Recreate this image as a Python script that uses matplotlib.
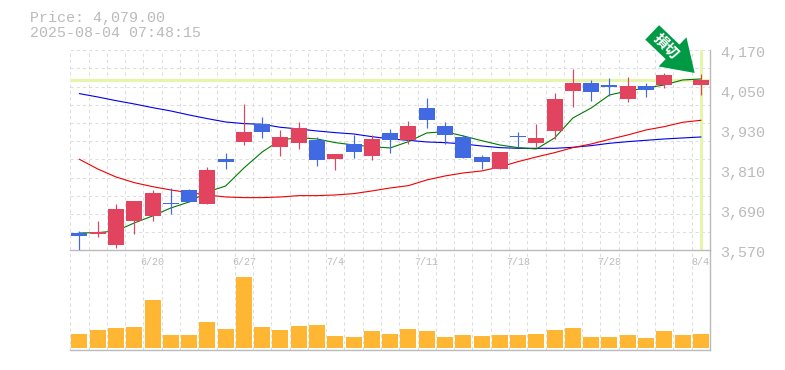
"""Daily candles with moving averages and volume, price panel over volume panel."""

import numpy as np
import matplotlib
matplotlib.use("Agg")
import matplotlib.pyplot as plt

W, H = 785, 370

# red = close above open, blue = close below open
opens = [3622, 3619, 3586, 3658, 3673, 3712, 3751, 3709, 3844, 3895, 3949, 3880,
         3892, 3901, 3844, 3889, 3853, 3922, 3901, 3997, 3943, 3910, 3850, 3814,
         3913, 3892, 3928, 4048, 4072, 4066, 4024, 4063, 4066, np.nan, 4066]
closes = [3613, 3625, 3694, 3718, 3742, 3709, 3715, 3811, 3835, 3925, 3925, 3910,
          3937, 3841, 3859, 3865, 3904, 3901, 3943, 3961, 3916, 3847, 3835, 3865,
          3910, 3907, 4024, 4072, 4045, 4060, 4063, 4051, 4096, np.nan, 4081]
highs = [3628, 3658, 3709, 3718, 3751, 3757, 3754, 3820, 3862, 4009, 3970, 3931,
         3955, 3910, 3859, 3916, 3916, 3934, 3958, 4027, 3955, 3916, 3856, 3865,
         3925, 3949, 4042, 4114, 4081, 4087, 4090, 4072, 4102, np.nan, 4099]
lows = [3570, 3610, 3577, 3619, 3658, 3679, 3715, 3709, 3814, 3886, 3907, 3853,
        3874, 3823, 3811, 3847, 3841, 3862, 3889, 3937, 3889, 3847, 3814, 3814,
        3880, 3880, 3904, 4000, 4018, 4033, 4015, 4030, 4057, np.nan, 4036]

ma_short = [3622, 3623, 3628, 3652, 3673, 3697, 3715, 3745, 3763, 3817, 3865, 3901,
            3908, 3904, 3893, 3886, 3881, 3877, 3896, 3922, 3926, 3913, 3899, 3886,
            3878, 3874, 3907, 3967, 3997, 4036, 4048, 4057, 4066, 4081, 4084]
ma_mid = [3843, 3814, 3790, 3773, 3761, 3751, 3743, 3736, 3730, 3728, 3728, 3730,
          3734, 3734, 3736, 3740, 3748, 3757, 3764, 3781, 3793, 3802, 3808, 3820,
          3836, 3850, 3863, 3878, 3889, 3903, 3916, 3931, 3941, 3954, 3960]
ma_long = [4040, 4030, 4019, 4009, 3998, 3988, 3976, 3965, 3955, 3950, 3948, 3939,
           3934, 3928, 3923, 3919, 3911, 3904, 3900, 3895, 3893, 3889, 3883, 3878,
           3876, 3876, 3876, 3879, 3884, 3891, 3896, 3900, 3904, 3907, 3910]

volumes = [14, 18, 20, 21, 48, 13, 13, 26, 19, 71, 21, 18, 22, 23, 12, 11, 17, 14,
           19, 17, 11, 13, 12, 13, 13, 14, 18, 20, 11, 11, 13, 10, 17, 13, 14]

date_idx = [4, 9, 14, 19, 24, 29, 34]
date_labels = ["6/20", "6/27", "7/4", "7/11", "7/18", "7/28", "8/4"]
price_ticks = [3570, 3690, 3810, 3930, 4050, 4170]
price_labels = ["3,570", "3,690", "3,810", "3,930", "4,050", "4,170"]

last_price = 4080
n = len(volumes)

RED = "#e2445f"
BLUE = "#4169e1"
GREY = "#bbbbbb"
GRID = "#dddddd"
LIME = "#e6f5ae"
GREEN = "#009944"
MONO = "Liberation Mono"


def px_axes(fig, left, top, right, bottom):
    return fig.add_axes([left / W, 1 - bottom / H, (right - left) / W, (bottom - top) / H])


fig = plt.figure(figsize=(W / 100, H / 100), dpi=100)
ax = px_axes(fig, 70.3, 50.3, 710, 250.3)
ax_vol = px_axes(fig, 70.3, 250.3, 710, 350.3)

x = np.arange(n)
grid_x = np.arange(n + 1) - 0.5

for a in (ax, ax_vol):
    a.set_xlim(-0.5, n - 0.5)
    a.set_facecolor("none")
    a.spines["top"].set_visible(False)
    a.spines["left"].set_visible(False)
    for s in ("right", "bottom"):
        a.spines[s].set_color(GREY)
        a.spines[s].set_linewidth(1.0)
    a.vlines(grid_x[:-1], 0, 1, transform=a.get_xaxis_transform(), color=GRID,
             lw=0.75, linestyles=(0, (3, 3)), zorder=0)
    a.tick_params(length=0)

# price panel
ax.set_ylim(3570, 4170)
for v in np.linspace(3570, 4170, 12)[1:]:
    ax.axhline(v, color=GRID, lw=0.75, ls=(0, (3, 3)), zorder=0)
ax.axhline(last_price, color=LIME, lw=2.3, zorder=1)
ax.axvline(x[-1], color=LIME, lw=2.3, zorder=1)

ax.plot(x, ma_long, color="#0000ee", lw=0.8, zorder=2)
ax.plot(x, ma_mid, color="#f00000", lw=0.8, zorder=2)
ax.plot(x, ma_short, color="#007a00", lw=0.8, zorder=2)

for i in range(n):
    if np.isnan(opens[i]):
        continue
    col = RED if closes[i] >= opens[i] else BLUE
    ax.vlines(x[i], lows[i], highs[i], color=col, lw=0.85, zorder=3)
    ax.bar(x[i], abs(closes[i] - opens[i]), bottom=min(opens[i], closes[i]),
           width=0.875, color=col, zorder=3)

ax.set_yticks([])
for v, lab in zip(price_ticks, price_labels):
    ax.annotate(lab, xy=(1, v), xycoords=ax.get_yaxis_transform(), xytext=(7.2, -2.2),
                textcoords="offset points", family=MONO, fontsize=10.8, color=GREY,
                ha="left", va="center", annotation_clip=False)
ax.set_xticks(date_idx, date_labels, fontfamily=MONO, fontsize=7.2, color=GREY)
ax.tick_params(axis="x", pad=5)

# signal arrow pointing at the last bars
ax.annotate("", xy=(33.66, 4102), xytext=(-30.6, 29.2), textcoords="offset points",
            arrowprops=dict(facecolor=GREEN, edgecolor=GREEN, lw=0, width=14.4,
                            headwidth=29, headlength=22, shrink=0),
            zorder=5, annotation_clip=False)
fig.text(666 / W, 1 - 46 / H, "損切", rotation=-45, color="white", fontsize=10.5,
         fontweight="bold", family=["Noto Sans CJK JP", "DejaVu Sans"],
         ha="center", va="center", zorder=6)

# volume panel
ax_vol.set_ylim(-2, 98)
ax_vol.bar(x, volumes, width=0.875, color="#ffb733", zorder=2)
ax_vol.set_xticks([])
ax_vol.set_yticks([])

fig.text(30 / W, 1 - 18 / H, "Price: 4,079.00", family=MONO, fontsize=10.8, color=GREY,
         va="center")
fig.text(30 / W, 1 - 33 / H, "2025-08-04 07:48:15", family=MONO, fontsize=10.8, color=GREY,
         va="center")

fig.savefig("out.png", dpi=100)
